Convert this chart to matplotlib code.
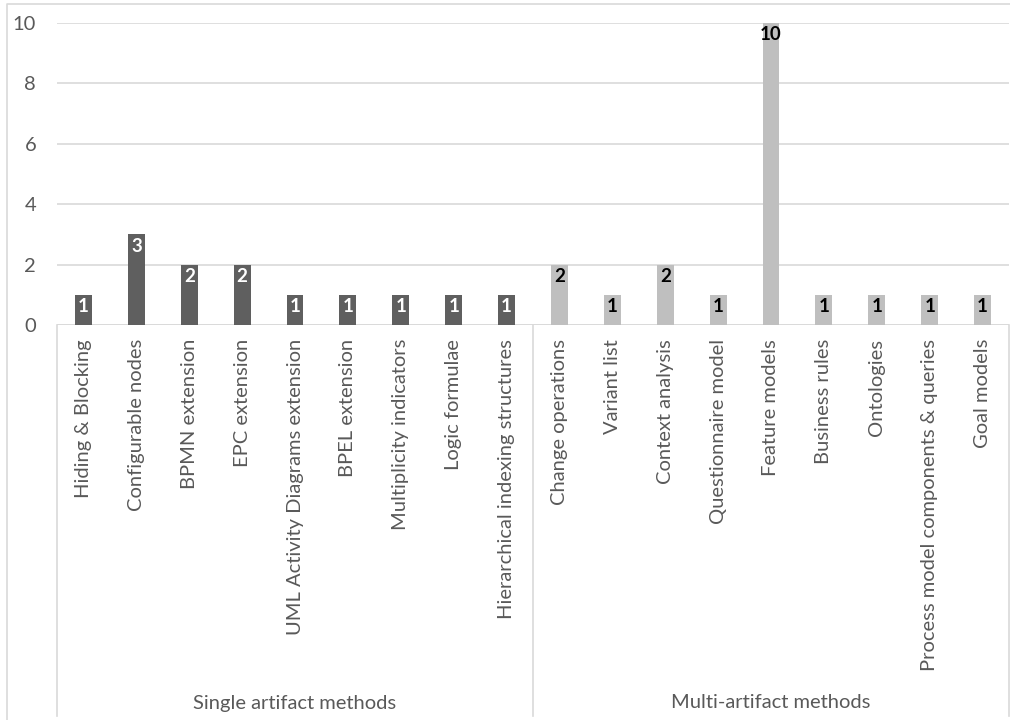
import matplotlib
matplotlib.use("Agg")
import matplotlib.pyplot as plt
from matplotlib.lines import Line2D

plt.rcParams['font.family'] = ['Lato', 'DejaVu Sans']

single_labels = ["Hiding & Blocking", "Configurable nodes", "BPMN extension", "EPC extension",
                 "UML Activity Diagrams extension", "BPEL extension", "Multiplicity indicators",
                 "Logic formulae", "Hierarchical indexing structures"]
single_values = [1, 3, 2, 2, 1, 1, 1, 1, 1]
multi_labels = ["Change operations", "Variant list", "Context analysis", "Questionnaire model",
                "Feature models", "Business rules", "Ontologies",
                "Process model components & queries", "Goal models"]
multi_values = [2, 1, 2, 1, 10, 1, 1, 1, 1]
group_labels = ["Single artifact methods", "Multi-artifact methods"]
y_ticks = [0, 2, 4, 6, 8, 10]

DARK = "#5f5f5f"
LIGHT = "#bfbfbf"
GRID = "#d9d9d9"
TXT = "#595959"
FS = 14.5

W, H = 1010, 720
fig = plt.figure(figsize=(W / 100, H / 100), dpi=100)
L, R, T, B = 57, 1009, 23, 325
ax = fig.add_axes([L / W, 1 - B / H, (R - L) / W, (B - T) / H])

labels = single_labels + multi_labels
values = single_values + multi_values
colors = [DARK] * len(single_values) + [LIGHT] * len(multi_values)
n = len(labels)
xs = list(range(n))
bars = ax.bar(xs, values, width=0.32, color=colors, zorder=3)

ax.set_xlim(-0.5, n - 0.5)
ax.set_ylim(0, 10)
ax.set_yticks(y_ticks)
ax.set_yticklabels([str(v) for v in y_ticks])
ax.yaxis.grid(True, color=GRID, lw=1.2, zorder=0)
ax.set_axisbelow(True)
for s in ax.spines.values():
    s.set_visible(False)
ax.axhline(0, color=GRID, lw=1.2, zorder=2)
ax.tick_params(axis='y', length=0, pad=15, labelsize=FS, labelcolor=TXT)
ax.set_xticks(xs)
ax.set_xticklabels(labels, rotation=90, va='top', ha='center')
ax.tick_params(axis='x', length=0, pad=10, labelsize=FS, labelcolor=TXT)

# data labels
for i, (b, v) in enumerate(zip(bars, values)):
    c = 'white' if i < len(single_values) else 'black'
    ax.annotate(str(v), (b.get_x() + b.get_width() / 2, v), xytext=(0, -2.5),
                textcoords='offset points', ha='center', va='top',
                fontsize=13.5, fontweight='bold', color=c, zorder=4)

# category axis group lines
trans = ax.get_xaxis_transform()
ybot = -(716 - B) / (B - T)
for xb in [-0.5, len(single_values) - 0.5, n - 0.5]:
    ax.plot([xb, xb], [0, ybot], transform=trans, color=GRID, lw=1.2, clip_on=False)

# group labels
ygl = -(703 - B) / (B - T)
centers = [(len(single_values) - 1) / 2, len(single_values) + (len(multi_values) - 1) / 2]
for cx, gl in zip(centers, group_labels):
    ax.text(cx, ygl, gl, transform=trans, ha='center', va='center', fontsize=FS, color=TXT)

# outer frame
fig.add_artist(Line2D([7 / W, 7 / W, 1.0], [0, 1 - 4 / H, 1 - 4 / H],
                      transform=fig.transFigure, color=GRID, lw=1.2))

fig.savefig("out.png", dpi=100, facecolor='white')
